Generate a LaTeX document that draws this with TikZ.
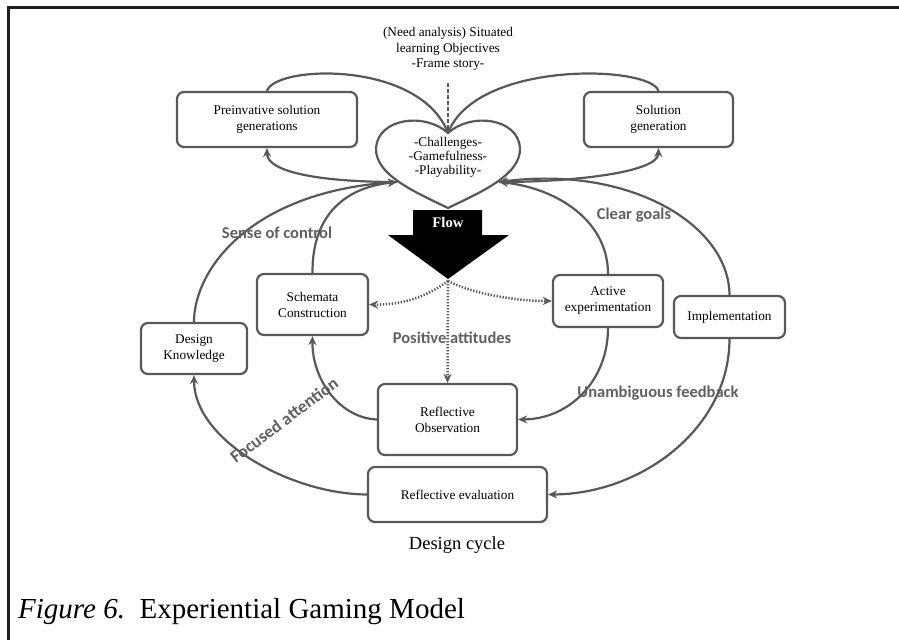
\documentclass[tikz,border=0pt]{standalone}
\usepackage{fontspec}
\setmainfont{Liberation Serif}
\newfontfamily\lblfont{Carlito}
\usetikzlibrary{arrows.meta}
\definecolor{linegray}{RGB}{88,88,88}
\definecolor{lblgray}{RGB}{96,96,96}

\begin{document}
\begin{tikzpicture}[x=1pt,y=1pt]
    \tikzstyle{box}=[draw=linegray, line width=2.2pt, rounded corners=7pt, fill=white, align=center, inner sep=0pt, font=\fontsize{13.3}{16}\selectfont]
    \tikzstyle{link}=[draw=linegray, line width=2.2pt]
    \tikzstyle{tip}=[-{Stealth[length=9pt,width=8pt]}]
    \tikzstyle{dots}=[draw=linegray, line width=2.6pt, dash pattern=on 1.3pt off 1.7pt]
    \tikzstyle{lbl}=[text=lblgray, inner sep=0pt, font=\lblfont\bfseries\fontsize{16.5}{19}\selectfont]
    \useasboundingbox (0,0) rectangle (899,-640);
    \draw[line width=3pt, black!88] (899,-7) -- (8,-7) -- (8,-640);
    % heart
    \coordinate (cusp) at (448,-133);
    \coordinate (hl) at (397,-182);
    \coordinate (hr) at (499,-182);
    \filldraw[link, fill=white] (cusp) .. controls (425,-112) and (378,-118) .. (376,-148)
      .. controls (375,-175) and (415,-192) .. (448,-208)
      .. controls (481,-192) and (521,-175) .. (520,-148)
      .. controls (518,-118) and (471,-112) .. (cusp) -- cycle;
    \node[align=center, font=\fontsize{13.3}{14}\selectfont] (heart) at (448,-157) {-Challenges-\\-Gamefulness-\\-Playability-};
    \node[align=center, font=\fontsize{13.3}{15.5}\selectfont] (need) at (448,-49) {(Need analysis) Situated\\learning Objectives\\-Frame story-};
    % boxes
    \node[box, minimum width=180pt, minimum height=55pt] (pre) at (267,-119.5) {Preinvative solution\\generations};
    \node[box, minimum width=149pt, minimum height=55pt] (sol) at (658.5,-119.5) {Solution\\generation};
    \node[box, minimum width=111pt, minimum height=61pt] (sc) at (312.5,-304.5) {Schemata\\Construction};
    \node[box, minimum width=106pt, minimum height=51pt] (dk) at (194,-348.5) {Design\\Knowledge};
    \node[box, minimum width=110pt, minimum height=52pt] (ae) at (608,-301) {Active\\experimentation};
    \node[box, minimum width=111pt, minimum height=42pt] (imp) at (729.5,-317) {Implementation};
    \node[box, minimum width=139pt, minimum height=71pt] (ro) at (447.5,-419.5) {Reflective\\Observation};
    \node[box, minimum width=179pt, minimum height=55pt] (re) at (457.5,-494.5) {Reflective evaluation};
    % flow
    \fill[black] (413,-210) -- (482,-210) -- (482,-235) -- (509,-235) -- (448,-279) -- (388,-235) -- (413,-235) -- cycle;
    \node[text=white, font=\bfseries\fontsize{14.7}{17}\selectfont] (flow) at (448,-222) {Flow};
    \coordinate (ft) at (448,-281);
    % connectors
    \draw[link, line width=2.6pt, dash pattern=on 4pt off 2pt] ([yshift=-9pt]need.south) -- (cusp);
    \draw[link] (pre.north) .. controls (275,-65) and (420,-60) .. (cusp);
    \draw[link] (sol.north) .. controls (650,-65) and (476,-60) .. (cusp);
    \draw[link, tip] (hl) .. controls (320,-182) and (267,-172) .. (pre.south);
    \draw[link, tip] (hr) .. controls (576,-182) and (658,-172) .. (sol.south);
    \draw[link, tip] (dk.north) .. controls (194,-270) and (250,-192) .. (hl);
    \draw[link, tip] (sc.north) .. controls (312,-220) and (340,-188) .. (hl);
    \draw[link, tip] (ae.north) .. controls (608,-220) and (556,-188) .. (hr);
    \draw[link, tip] (imp.north) .. controls (729,-225) and (630,-165) .. (hr);
    \draw[link, tip] (re.west) .. controls (290,-494) and (194,-440) .. (dk.south);
    \draw[link, tip] (ro.west) .. controls (340,-418) and (312,-380) .. (sc.south);
    \draw[link, tip] (ae.south) .. controls (608,-380) and (570,-419) .. (ro.east);
    \draw[link, tip] (imp.south) .. controls (729,-430) and (640,-494) .. (re.east);
    \draw[dots, tip] (ft) -- (ro.north);
    \draw[dots, tip] (ft) .. controls (425,-298) and (400,-305) .. (sc.east);
    \draw[dots, tip] (ft) .. controls (475,-295) and (520,-301) .. (ae.west);
    % labels
    \node[lbl] (ctrl) at (277,-233) {Sense of control};
    \node[lbl] (goals) at (634,-215) {Clear goals};
    \node[lbl] (att) at (452,-338) {Positive attitudes};
    \node[lbl] (fb) at (658,-393) {Unambiguous feedback};
    \node[lbl, rotate=37, font=\lblfont\bfseries\fontsize{17.5}{20}\selectfont] (focus) at (284,-420) {Focused attention};
    \node[font=\fontsize{18.5}{22}\selectfont] (dc) at (457,-545) {Design cycle};
    \node[anchor=base west, inner sep=0pt, font=\fontsize{29}{34}\selectfont] (cap) at (18,-618) {\textit{Figure 6.}\ \ Experiential Gaming Model};
  \end{tikzpicture}
\end{document}
